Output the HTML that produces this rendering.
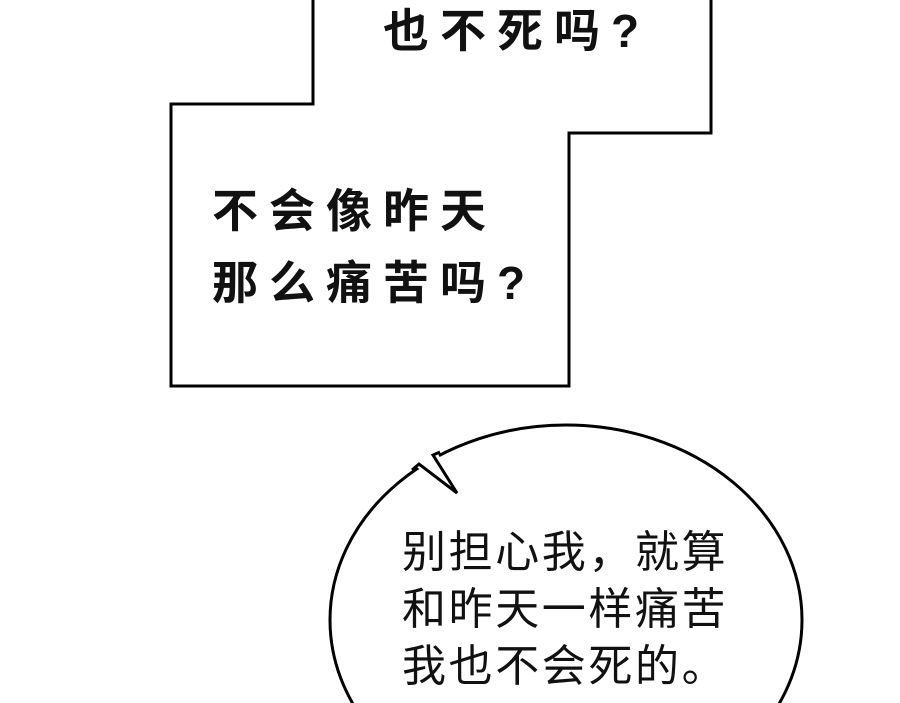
<!DOCTYPE html>
<html><head><meta charset="utf-8"><style>
html,body{margin:0;padding:0;background:#fff;overflow:hidden;}
body{width:900px;height:703px;position:relative;overflow:hidden;}
.t{position:absolute;font-family:"Liberation Sans","Noto Sans CJK SC",sans-serif;color:#111;white-space:nowrap;}
.b{font-weight:bold;font-size:46px;letter-spacing:11px;line-height:72px;}
.r{font-size:44px;line-height:57px;letter-spacing:2.6px;}
</style></head><body>
<svg width="900" height="703" style="position:absolute;left:0;top:0;overflow:hidden">
<polygon points="313,-5 313,104 171,104 171,386 569,386 569,133 711,133 711,-5" fill="#fff" stroke="#000" stroke-width="3"/>
<ellipse cx="566" cy="620" rx="236" ry="195" fill="#fff" stroke="#000" stroke-width="3"/>
<polygon points="415,466 437,452 460,496" fill="#fff"/>
<polyline points="412,470 419,464 457,493 433,455 440,452" fill="none" stroke="#000" stroke-width="3" stroke-linejoin="miter"/>
</svg>
<div class="t b" style="left:383px;top:-5px">也不死吗?</div>
<div class="t b" style="left:212px;top:175px">不会像昨天<br>那么痛苦吗?</div>
<div class="t r" style="left:402px;top:524px">别担心我，就算<br>和昨天一样痛苦<br>我也不会死的。</div>
</body></html>
